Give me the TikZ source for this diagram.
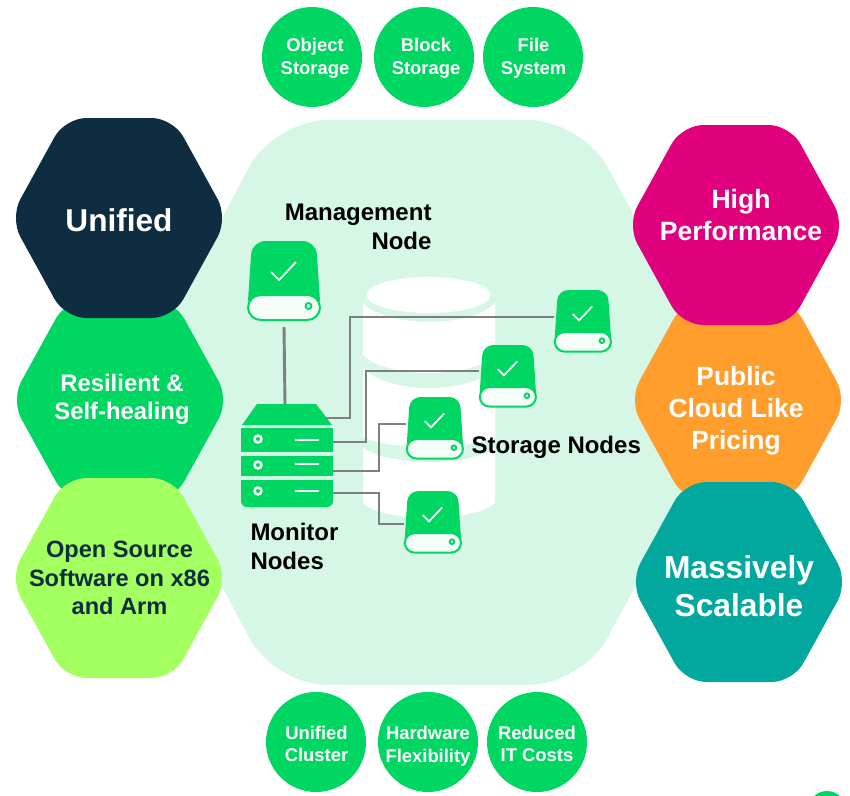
\documentclass[tikz,border=0pt]{standalone}
\usepackage{fontspec}
\setmainfont{Liberation Sans}

\definecolor{cellgreen}{RGB}{0,214,98}
\definecolor{cellpale}{RGB}{214,247,229}
\definecolor{cellnavy}{RGB}{15,45,64}
\definecolor{cellmagenta}{RGB}{224,0,126}
\definecolor{cellorange}{RGB}{255,158,44}
\definecolor{cellteal}{RGB}{2,168,158}
\definecolor{celllime}{RGB}{164,255,96}
\definecolor{wiregray}{RGB}{127,127,127}

\tikzset{
  every picture/.style={line width=0.75pt},
  hexlabel/.style n args={3}{align=center,inner sep=0pt,text=#3,font=\fontsize{#1}{#2}\selectfont\bfseries},
  pill/.style={circle,fill=cellgreen,minimum size=75pt,inner sep=0pt},
  pilllabel/.style={text=white,inner sep=0pt,align=center,font=\fontsize{13.8}{17}\selectfont\bfseries},
  caption/.style={inner sep=0pt,font=\fontsize{18}{21.8}\selectfont\bfseries},
  wire/.style={draw=wiregray,line width=2.2pt},
  holder/.style={inner sep=0pt,outer sep=0pt,anchor=north west},
}

% hexagon cell: name, centre, colour, text centre, text style, text
\newcommand{\hexcell}[8]{
  \fill [#4,rounded corners=16pt,shift={(#2,#3)}] (-54,-100) -- (54,-100) -- (109,0) -- (54,100) -- (-54,100) -- (-109,0) -- cycle ;
  \node [#7] (#1) at (#5,#6) {#8};
}

% round cell: name, centre, text centre, text
\newcommand{\pillcell}[6]{
  \node [pill] (#1) at (#2,#3) {};
  \node [pilllabel] (#1 text) at (#4,#5) {#6};
}

% disk icon: name, left, top, scale
\newcommand{\diskicon}[4]{
  \node [holder,minimum width=#4*55.5pt,minimum height=#4*60pt] (#1) at (#2,#3) {};
  \begin{scope}[shift={(#2,#3)},scale=#4]
    \fill [cellgreen] (1,60) [rounded corners=#4*10pt] -- (5,0) -- (69,0) [sharp corners] -- (73,60) -- cycle ;
    \draw [cellgreen,fill=cellpale!25!white,line width=1.5pt,rounded corners=#4*9.5pt] (1,54) rectangle (73,79) ;
    \draw [white,line width=1.3pt] (24,31) -- (32,39) -- (49,21) ;
    \draw [cellgreen,line width=1.4pt] (61.5,65) circle (3) ;
  \end{scope}
}

\begin{document}
\begin{tikzpicture}[x=0.75pt,y=0.75pt,yscale=-1,xscale=1]
  \useasboundingbox (0,0) rectangle (850,796);

  % Large backing hexagon
  \fill [cellpale,rounded corners=40pt] (274,120) -- (582,120) -- (735,402) -- (582,685) -- (274,685) -- (125,402) -- cycle ;

  % Database
  \fill [white] (363,303) .. controls (385,328) and (473,328) .. (495,303) -- (495,503) .. controls (473,523) and (385,523) .. (363,503) -- cycle ;
  \fill [white] (428.5,295) ellipse (62 and 18) ;
  \fill [cellpale] (363,355) .. controls (385,379) and (473,379) .. (495,355) -- (495,367) .. controls (473,395) and (385,395) .. (363,367) -- cycle ;
  \fill [cellpale] (363,437) .. controls (385,450) and (473,450) .. (495,437) -- (495,447) .. controls (473,467) and (385,467) .. (363,447) -- cycle ;

  % Left column
  \hexcell{resilient}{120}{400}{cellgreen}{122}{399}{hexlabel={17.9}{21}{white}}{Resilient \&\\Self-healing}
  \hexcell{unified}{119}{218}{cellnavy}{119}{220}{hexlabel={23.7}{28}{white}}{Unified}
  \hexcell{opensrc}{119}{578}{celllime}{119.5}{578}{hexlabel={17.7}{21.4}{cellnavy}}{Open Source\\Software on x86\\and Arm}

  % Right column
  \hexcell{cloud}{738}{400}{cellorange}{736}{411}{hexlabel={19.8}{24}{white}}{Public\\Cloud Like\\Pricing}
  \hexcell{perf}{736}{225}{cellmagenta}{741}{215}{hexlabel={19.9}{24}{white}}{High\\Performance}
  \hexcell{scale}{739}{582}{cellteal}{739}{586}{hexlabel={23.8}{28}{white}}{Massively\\Scalable}

  % Top row
  \pillcell{objstore}{312}{57}{315}{58}{Object\\Storage}
  \pillcell{blockstore}{424}{57}{426}{58}{Block\\Storage}
  \pillcell{filesys}{533}{57}{533.5}{58}{File\\System}

  % Bottom row
  \pillcell{cluster}{316}{742}{316.5}{744}{Unified\\Cluster}
  \pillcell{hardware}{428}{742}{428}{746}{Hardware\\Flexibility}
  \pillcell{costs}{537}{742}{537}{744}{Reduced\\IT Costs}

  % Corner circle
  \node [circle,fill=cellgreen,minimum size=28.5pt,inner sep=0pt] (corner) at (827,810) {};

  % Monitor server
  \node [holder,minimum width=69pt,minimum height=77.25pt] (monitor) at (241,404) {};
  \fill [cellgreen] (257,404) -- (316,404) -- (332,425) -- (242,425) -- cycle ;
  \fill [cellgreen] (241,428) rectangle (333,452) ;
  \fill [cellgreen] (241,456) rectangle (333,476) ;
  \fill [cellgreen] (241,480) [rounded corners=4.5pt] -- (241,507) -- (333,507) [sharp corners] -- (333,480) -- cycle ;
  \foreach \rowy/\liney in {439/440,465/464,491/491}
  {
    \draw [white,line width=1.8pt] (258,\rowy) circle (3.5) ;
    \draw [white,line width=2pt,line cap=round] (296,\liney) -- (318,\liney) ;
  }

  % Disks
  \diskicon{mgmt}{247}{241}{1}
  \diskicon{stor1}{554}{290}{0.78}
  \diskicon{stor2}{479}{345}{0.78}
  \diskicon{stor3}{406}{397}{0.78}
  \diskicon{stor4}{404}{491}{0.78}

  % Wires
  \draw [wire] ([yshift=4.5pt]mgmt.south) -- ([xshift=-1.5pt]monitor.north) ;
  \draw [wire] ([xshift=-6pt]monitor.east |- 0,418) -| (350,317) -- (stor1.west |- 0,317) ;
  \draw [wire] (monitor.east |- 0,442) -| (366,371) -- (stor2.west |- 0,371) ;
  \draw [wire] (monitor.east |- 0,471) -| (379,424) -- (stor3.west |- 0,424) ;
  \draw [wire] (monitor.east |- 0,493) -| (379,524) -- (stor4.west |- 0,524) ;

  % Text Node
  \node [caption,align=right,anchor=north east] (mgmtlabel) at (432,203) {Management\\Node};
  % Text Node
  \node [caption,anchor=west] (storlabel) at (471,447) {Storage Nodes};
  % Text Node
  \node [caption,align=left,anchor=north west] (monlabel) at (250,523) {Monitor\\Nodes};
\end{tikzpicture}
\end{document}
